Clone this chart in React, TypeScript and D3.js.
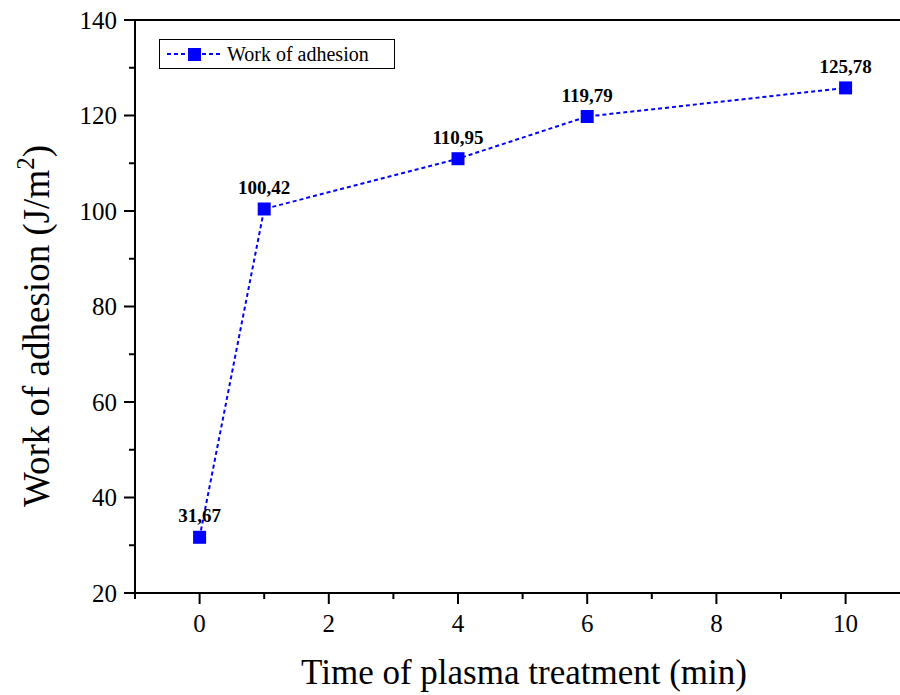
import React from "react";
import * as d3 from "d3";

// data
const times = [0, 1, 4, 6, 10];
const adhesion = [31.67, 100.42, 110.95, 119.79, 125.78];
const labels = ["31,67", "100,42", "110,95", "119,79", "125,78"];
const xTicks = [0, 2, 4, 6, 8, 10];
const xMinor = [-1, 1, 3, 5, 7, 9, 11];
const yTicks = [20, 40, 60, 80, 100, 120, 140];
const yMinor = [30, 50, 70, 90, 110, 130];

const W = 900;
const H = 695;
const FONT = "Liberation Serif";

export default function App() {
  // plot frame: left 135, top 20, bottom 593, right side is cut by the picture
  const x = d3.scaleLinear().domain([-1, 11]).range([135, 135 + 12 * 64.6]);
  const y = d3.scaleLinear().domain([20, 140]).range([593, 20]);

  const line = d3
    .line<number>()
    .x((d, i) => x(times[i]))
    .y((d) => y(d));

  const left = x(-1);
  const right = x(11);

  return (
    <div style={{ position: "absolute", left: 0, top: 0 }}>
      <svg width={W} height={H} style={{ display: "block", background: "#fff", fontFamily: FONT }}>
        {/* frame */}
        <line x1={left} x2={right} y1={y(140)} y2={y(140)} stroke="#000" strokeWidth={2} />
        <line x1={left} x2={right} y1={y(20)} y2={y(20)} stroke="#000" strokeWidth={2} />
        <line x1={left} x2={left} y1={y(140)} y2={y(20)} stroke="#000" strokeWidth={2} />

        {/* x ticks */}
        {xTicks.map((t) => (
          <g key={"x" + t}>
            <line x1={x(t)} x2={x(t)} y1={y(20)} y2={y(20) + 11} stroke="#000" strokeWidth={2} />
            <text x={x(t)} y={y(20) + 39} textAnchor="middle" fontSize={25}>
              {t}
            </text>
          </g>
        ))}
        {xMinor.map((t) => (
          <line key={"xm" + t} x1={x(t)} x2={x(t)} y1={y(20)} y2={y(20) + 6} stroke="#000" strokeWidth={2} />
        ))}

        {/* y ticks */}
        {yTicks.map((t) => (
          <g key={"y" + t}>
            <line x1={left} x2={left - 11} y1={y(t)} y2={y(t)} stroke="#000" strokeWidth={2} />
            <text x={left - 18} y={y(t) + 8.5} textAnchor="end" fontSize={25}>
              {t}
            </text>
          </g>
        ))}
        {yMinor.map((t) => (
          <line key={"ym" + t} x1={left} x2={left - 6} y1={y(t)} y2={y(t)} stroke="#000" strokeWidth={2} />
        ))}

        {/* axis titles */}
        <text x={524} y={684} textAnchor="middle" fontSize={35}>
          Time of plasma treatment (min)
        </text>
        <text transform="translate(49,326) rotate(-90)" textAnchor="middle" fontSize={37}>
          Work of adhesion (J/m
          <tspan dy={-15} fontSize={25}>2</tspan>
          <tspan dy={15}>)</tspan>
        </text>

        {/* series */}
        <path d={line(adhesion) || ""} fill="none" stroke="#0000ff" strokeWidth={2} strokeDasharray="4,3" />
        {adhesion.map((v, i) => (
          <rect key={"p" + i} x={x(times[i]) - 6.5} y={y(v) - 6.5} width={13} height={13} fill="#0000ff" />
        ))}
        {adhesion.map((v, i) => (
          <text key={"l" + i} x={x(times[i])} y={y(v) - 15} textAnchor="middle" fontSize={19} fontWeight="bold">
            {labels[i]}
          </text>
        ))}

        {/* legend */}
        <rect x={159.5} y={39.5} width={235} height={29} fill="#fff" stroke="#000" strokeWidth={1} />
        <line x1={167} x2={222} y1={54} y2={54} stroke="#0000ff" strokeWidth={2} strokeDasharray="4,3" />
        <rect x={188} y={48} width={13} height={13} fill="#0000ff" />
        <text x={227} y={61} fontSize={20}>
          Work of adhesion
        </text>
      </svg>
    </div>
  );
}
